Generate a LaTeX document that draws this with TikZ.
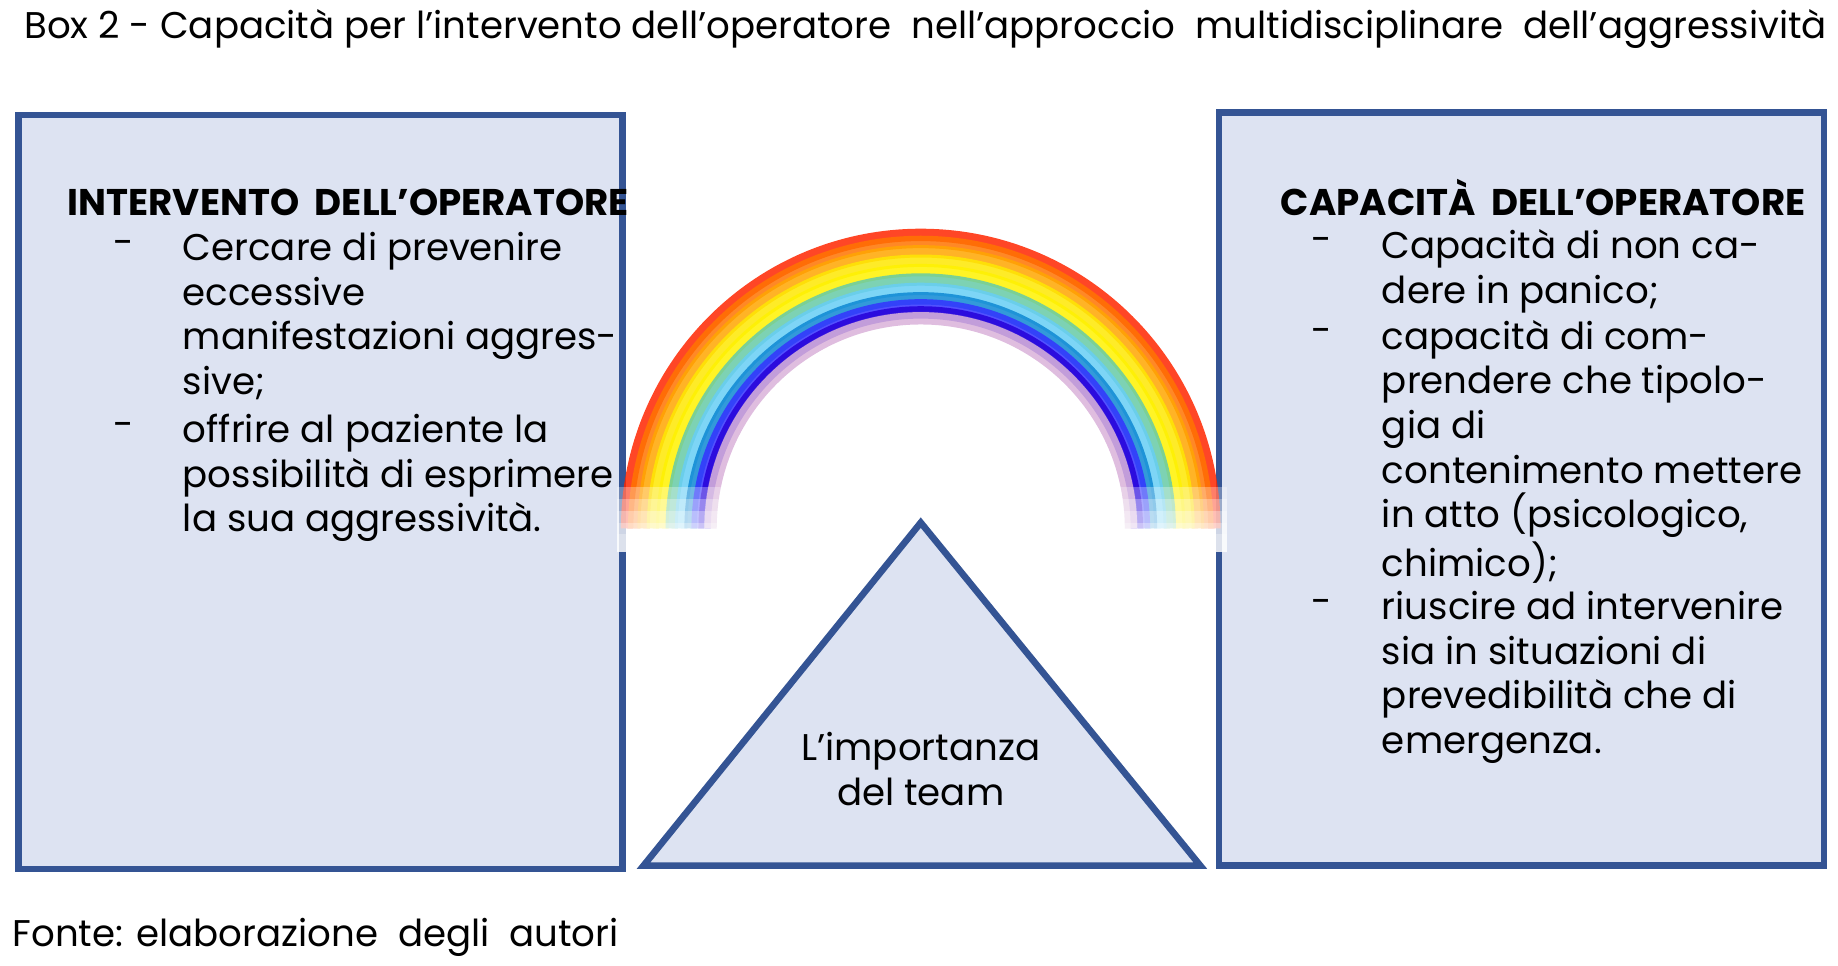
\documentclass[tikz,border=0pt]{standalone}
\usepackage{fontspec}
\setmainfont{Poppins}
\usetikzlibrary{positioning}
\definecolor{boxfill}{RGB}{221,227,242}
\definecolor{boxline}{RGB}{52,84,148}
\tikzset{
  panel/.style={draw=boxline, fill=boxfill, line width=1.6pt},
  body/.style={font=\fontsize{9}{10.8}\selectfont, align=left, inner sep=0pt},
  head/.style={font=\fontsize{9}{10.8}\selectfont\bfseries, inner sep=0pt},
  bullet/.style={font=\fontsize{9}{10.8}\selectfont, inner sep=0pt}
}
\begin{document}
\begin{tikzpicture}[x=0.1mm,y=-0.1mm]
  \useasboundingbox (0,0) rectangle (1565,822);
  % title
  \node[body, anchor=west] (title) at (20,25) {Box 2 - Capacità per l’intervento dell’operatore\ \ nell’approccio\ \ multidisciplinare\ \ dell’aggressività};
  % boxes
  \draw[panel] (16,98) rectangle (530,740);
  \draw[panel] (1038,96) rectangle (1553,737);
  % rainbow
  \foreach \r/\c in {250/red!70!orange, 244/orange!90!red, 236/orange!70!yellow, 228/yellow!90!orange, 220/yellow, 212/yellow!40!cyan, 204/cyan!60, 196/cyan!70!blue, 190/blue!80, 184/blue!70!violet, 179/violet!30}
    \draw[\c, line width=3pt, opacity=0.85] (784+\r,450) arc[start angle=0, end angle=-180, radius=\r];
  \foreach \y in {415,425,...,455}
    \fill[white, opacity=0.3] (525,\y) rectangle (1045,470);
  % triangle
  \draw[panel] (784,445) -- (1022,737) -- (548,737) -- cycle;
  \node[body, align=center] (team) at (784,655) {L’importanza\\del team};
  % left box
  \node[head, anchor=west] (lhead) at (57,172) {INTERVENTO\ \ DELL’OPERATORE};
  \node[bullet] (ld1) at (105,211) {-};
  \node[body, anchor=north west] (li1) at (155,197) {Cercare di prevenire\\eccessive\\manifestazioni aggres-\\sive;};
  \node[bullet] (ld2) at (105,366) {-};
  \node[body, anchor=north west] (li2) at (155,352) {offrire al paziente la\\possibilità di esprimere\\la sua aggressività.};
  % right box
  \node[head, anchor=west] (rhead) at (1090,168) {CAPACITÀ\ \ DELL’OPERATORE};
  \node[bullet] (rd1) at (1125,209) {-};
  \node[body, anchor=north west] (ri1) at (1176,195) {Capacità di non ca-\\dere in panico;};
  \node[bullet] (rd2) at (1125,286) {-};
  \node[body, anchor=north west] (ri2) at (1176,272) {capacità di com-\\prendere che tipolo-\\gia di\\contenimento mettere\\in atto (psicologico,\\chimico);};
  \node[bullet] (rd3) at (1125,517) {-};
  \node[body, anchor=north west] (ri3) at (1176,503) {riuscire ad intervenire\\sia in situazioni di\\prevedibilità che di\\emergenza.};
  % source
  \node[body, anchor=west] (src) at (10,798) {Fonte: elaborazione\ \ degli\ \ autori};
\end{tikzpicture}
\end{document}
